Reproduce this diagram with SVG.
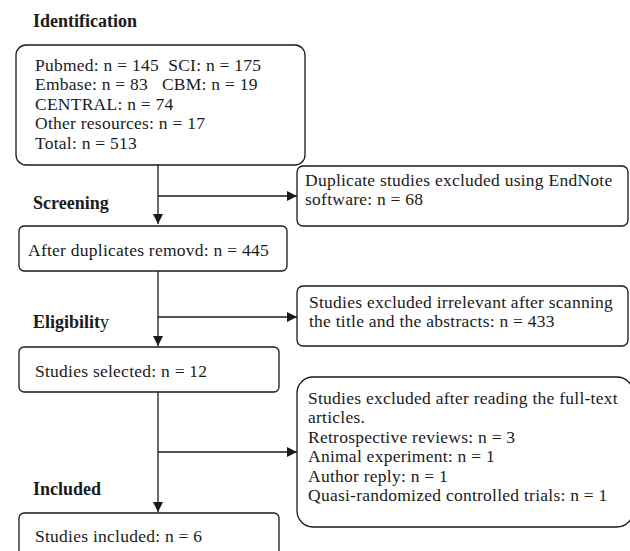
<svg xmlns="http://www.w3.org/2000/svg" width="630" height="551" viewBox="0 0 630 551">
<style>
.t{font-family:"Liberation Serif","Times New Roman",serif;font-size:17.5px;fill:#1a1a1a;white-space:pre;letter-spacing:0.25px}
.h{font-family:"Liberation Serif","Times New Roman",serif;font-size:18px;font-weight:bold;fill:#1a1a1a}
.b{fill:#fff;stroke:#1a1a1a;stroke-width:1.3}
.c{fill:none;stroke:#1a1a1a;stroke-width:1.3}
</style>
<defs>
<marker id="ah" viewBox="0 0 10 10" refX="10" refY="5" markerWidth="10" markerHeight="10" markerUnits="userSpaceOnUse" orient="auto">
<path d="M0,0 L10,5 L0,10 Z" fill="#1a1a1a"/>
</marker>
</defs>
<rect width="630" height="551" fill="#fff"/>
<g id="labels">
<text class="h" x="33" y="27">Identification</text>
<text class="h" x="33" y="209">Screening</text>
<text class="h" x="33" y="328">Eligibilit<tspan font-weight="normal">y</tspan></text>
<text class="h" x="33" y="495">Included</text>
</g>
<g id="connectors">
<line class="c" x1="158" y1="165" x2="158" y2="224" marker-end="url(#ah)"/>
<line class="c" x1="158" y1="196" x2="297" y2="196" marker-end="url(#ah)"/>
<line class="c" x1="158" y1="271" x2="158" y2="346" marker-end="url(#ah)"/>
<line class="c" x1="158" y1="317" x2="297" y2="317" marker-end="url(#ah)"/>
<line class="c" x1="158" y1="392" x2="158" y2="512" marker-end="url(#ah)"/>
<line class="c" x1="158" y1="452" x2="297" y2="452" marker-end="url(#ah)"/>
</g>
<g id="identification">
<rect class="b" x="16" y="45" width="289" height="120" rx="10"/>
<text class="t" xml:space="preserve" x="35" y="71">Pubmed: n = 145  SCI: n = 175</text>
<text class="t" xml:space="preserve" x="35" y="90.4">Embase: n = 83   CBM: n = 19</text>
<text class="t" x="35" y="109.8">CENTRAL: n = 74</text>
<text class="t" x="35" y="129.2">Other resources: n = 17</text>
<text class="t" x="35" y="148.6">Total: n = 513</text>
</g>
<g id="duplicates-excluded">
<rect class="b" x="297" y="166" width="331" height="60" rx="6"/>
<text class="t" x="305" y="186">Duplicate studies excluded using EndNote</text>
<text class="t" x="305" y="205.4">software: n = 68</text>
</g>
<g id="after-duplicates">
<rect class="b" x="19" y="226" width="268" height="45" rx="5"/>
<text class="t" x="28" y="256">After duplicates removd: n = 445</text>
</g>
<g id="irrelevant-excluded">
<rect class="b" x="297" y="286" width="331" height="60" rx="6"/>
<text class="t" x="309" y="308">Studies excluded irrelevant after scanning</text>
<text class="t" x="309" y="327.4">the title and the abstracts: n = 433</text>
</g>
<g id="studies-selected">
<rect class="b" x="19" y="347" width="260" height="45" rx="5"/>
<text class="t" x="35" y="377">Studies selected: n = 12</text>
</g>
<g id="fulltext-excluded">
<rect class="b" x="297" y="377" width="336" height="150" rx="16"/>
<text class="t" x="308" y="404">Studies excluded after reading the full-text</text>
<text class="t" x="308" y="423.4">articles.</text>
<text class="t" x="308" y="442.8">Retrospective reviews: n = 3</text>
<text class="t" x="308" y="462.2">Animal experiment: n = 1</text>
<text class="t" x="308" y="481.6">Author reply: n = 1</text>
<text class="t" x="308" y="501">Quasi-randomized controlled trials: n = 1</text>
</g>
<g id="studies-included">
<rect class="b" x="19" y="513" width="260" height="50" rx="5"/>
<text class="t" x="35" y="542">Studies included: n = 6</text>
</g>
</svg>
